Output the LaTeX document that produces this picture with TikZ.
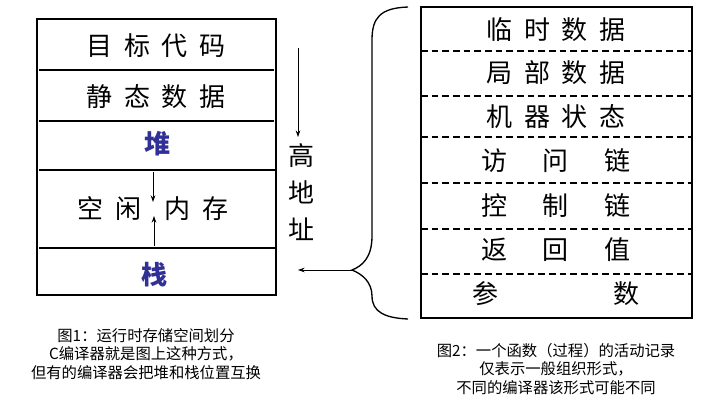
\documentclass[tikz,border=0pt]{standalone}
\usepackage{fontspec}
\setmainfont{Noto Sans CJK SC}
\usetikzlibrary{arrows.meta}
\definecolor{heapblue}{RGB}{48,48,150}
\newcommand{\gap}{\hspace{0.45em}}
\tikzset{
  cell/.style={font=\fontsize{19.5}{22}\selectfont},
  caption/.style={font=\fontsize{11.5}{14}\selectfont, align=center},
  arr/.style={-{Stealth[length=5pt,width=3.5pt]}, line width=0.6pt}
}
\begin{document}
\begin{tikzpicture}[x=0.75pt, y=-0.75pt, line width=1pt]
\useasboundingbox (0,0) rectangle (712,417);
				% left: storage layout
				\draw (37,19) rectangle (276,295);
				\draw (39,70) -- (274,70);
				\draw (39,121) -- (274,121);
				\draw (39,170) -- (276,170);
				\draw (39,248) -- (276,248);
				\node[cell] (code) at (156,46) {目\gap 标\gap 代\gap 码};
				\node[cell] (static) at (156,97) {静\gap 态\gap 数\gap 据};
				\node[cell, text=heapblue, font=\fontsize{19.5}{22}\bfseries] (heap) at (157,144) {堆};
				\node[cell] (free) at (153,209) {空\gap 闲\gap\gap 内\gap 存};
				\node[cell, text=heapblue, font=\fontsize{19.5}{22}\bfseries] (stack) at (154,275) {栈};
				\coordinate (ht) at (153,172);
				\coordinate (hb) at (153,202);
				\coordinate (st) at (154,246);
				\coordinate (sb) at (154,216);
				\draw[arr, line width=0.7pt] (ht) -- (hb);
				\draw[arr, line width=0.7pt] (st) -- (sb);
				\coordinate (dtop) at (298,48);
				\coordinate (dbot) at (298,137);
				\draw[arr] (dtop) -- (dbot);
				\node[cell, align=center, font=\fontsize{19.5}{28}\selectfont] (addr) at (301,192) {高\\地\\址};
				\node[caption] (cap1) at (146,354) {图1：运行时存储空间划分\\C编译器就是图上这种方式，\\但有的编译器会把堆和栈位置互换};
				% right: activation record
				\draw (421,7) rectangle (692,318);
				\foreach \y in {51,96,137,183,229,274}
					\draw[dashed, dash pattern=on 5pt off 3pt] (421,\y) -- (692,\y);
				\node[cell] (temp) at (556,30) {临\gap 时\gap 数\gap 据};
				\node[cell] (local) at (556,73) {局\gap 部\gap 数\gap 据};
				\node[cell] (mach) at (556,117) {机\gap 器\gap 状\gap 态};
				\node[cell] (access) at (556,161) {访\gap\gap\gap 问\gap\gap\gap 链};
				\node[cell] (ctrl) at (556,206) {控\gap\gap\gap 制\gap\gap\gap 链};
				\node[cell] (ret) at (556,250) {返\gap\gap\gap 回\gap\gap\gap 值};
				\node[cell] (param) at (556,294) {参\hspace{4.4em}数};
				\node[caption] (cap2) at (556,369) {图2：一个函数（过程）的活动记录\\仅表示一般组织形式，\\不同的编译器该形式可能不同};
				% brace
				\coordinate (tip) at (352,270);
				\draw (408,7) .. controls (380,8) and (372,18) .. (372,40)
					-- (372,236) .. controls (372,258) and (362,266) .. (tip)
					.. controls (362,274) and (372,282) .. (372,296)
					.. controls (372,312) and (385,318) .. (408,319);
				\coordinate (stk) at (298,270);
				\draw[arr] (tip) -- (stk);
\end{tikzpicture}
\end{document}
